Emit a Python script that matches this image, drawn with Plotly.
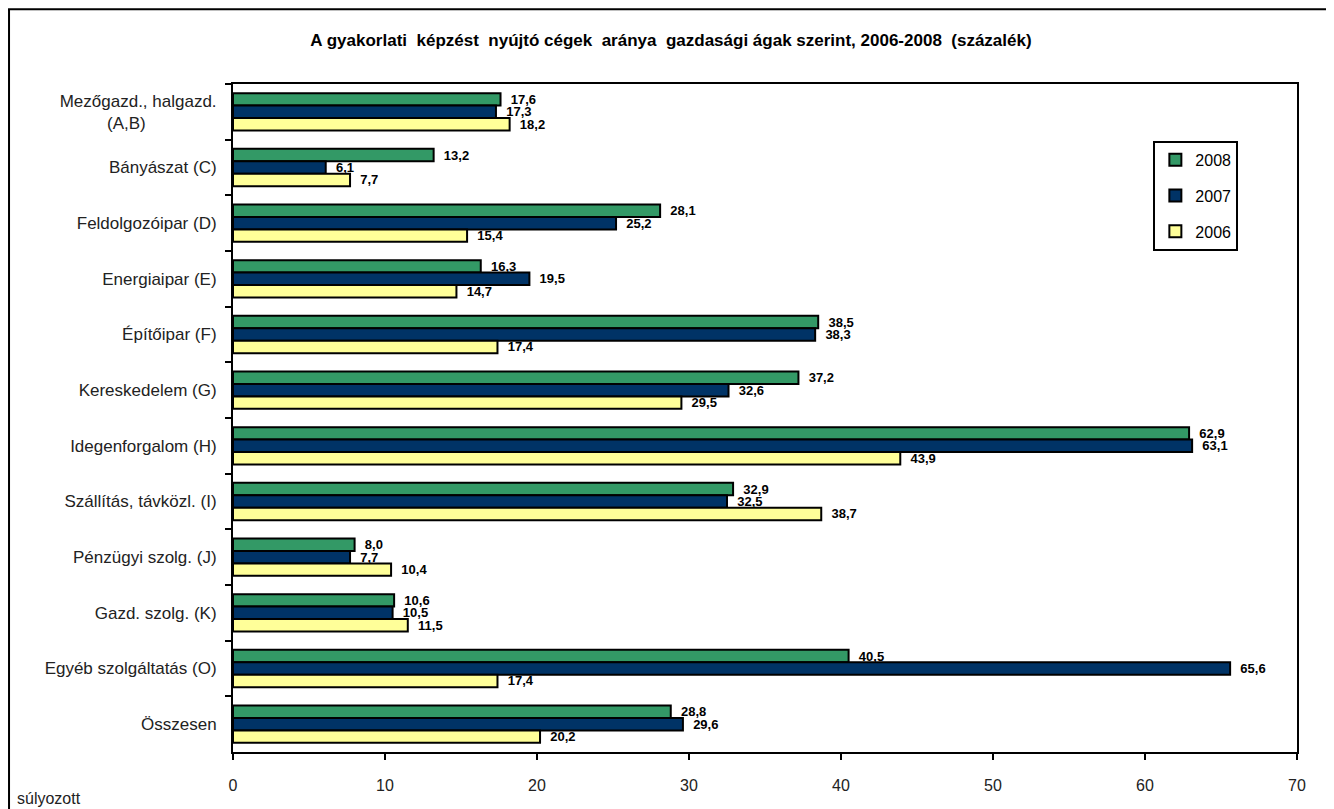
import plotly.graph_objects as go

categories = [
    "Mezőgazd., halgazd.<br>(A,B)",
    "Bányászat (C)",
    "Feldolgozóipar (D)",
    "Energiaipar (E)",
    "Építőipar (F)",
    "Kereskedelem (G)",
    "Idegenforgalom (H)",
    "Szállítás, távközl. (I)",
    "Pénzügyi szolg. (J)",
    "Gazd. szolg. (K)",
    "Egyéb szolgáltatás (O)",
    "Összesen",
]
v2008 = [17.6, 13.2, 28.1, 16.3, 38.5, 37.2, 62.9, 32.9, 8.0, 10.6, 40.5, 28.8]
v2007 = [17.3, 6.1, 25.2, 19.5, 38.3, 32.6, 63.1, 32.5, 7.7, 10.5, 65.6, 29.6]
v2006 = [18.2, 7.7, 15.4, 14.7, 17.4, 29.5, 43.9, 38.7, 10.4, 11.5, 17.4, 20.2]
x_ticks = [0, 10, 20, 30, 40, 50, 60, 70]

# push the "(A,B)" line toward the middle of the first label
categories[0] = categories[0] + "\u00a0" * 15

series = [("2008", v2008, "#339966"), ("2007", v2007, "#003366"), ("2006", v2006, "#FFFF99")]

nb = "\u00a0"

def fmt(v):
    return nb * 2 + f"{v:.1f}".replace(".", ",")

fig = go.Figure()
for name, vals, col in series:
    fig.add_trace(go.Bar(
        y=categories, x=vals, name=name, orientation="h", legendgroup=name,
        marker=dict(color=col, line=dict(color="black", width=2)),
        text=[fmt(v) for v in vals], textposition="outside", constraintext="none",
        textfont=dict(family="Liberation Sans, Arial", size=13, color="black", weight="bold"),
        cliponaxis=False,
    ))

title_txt = ("A gyakorlati" + nb + " képzést" + nb + " nyújtó cégek" + nb + " aránya" + nb +
             " gazdasági ágak szerint, 2006-2008" + nb + " (százalék)")

fig.update_layout(
    width=1326, height=801,
    margin=dict(l=225, r=37, t=76, b=57),
    barmode="group", bargap=0.33, bargroupgap=0,
    plot_bgcolor="white", paper_bgcolor="white",
    font=dict(family="Liberation Sans, Arial", size=17, color="#222"),
    title=dict(text="<b>" + title_txt + "</b>",
               x=0.5, xref="container", xanchor="center", y=1 - 32 / 801, yanchor="middle",
               font=dict(size=17, color="black")),
    legend=dict(x=0.865, y=0.915, xanchor="left", yanchor="top",
                bordercolor="black", borderwidth=2, bgcolor="white",
                font=dict(size=16, color="black"), tracegroupgap=12,
                itemwidth=30),
    xaxis=dict(range=[0, 70], tickvals=x_ticks, showgrid=False, zeroline=False,
               showline=True, linecolor="black", linewidth=2, mirror=True,
               ticks="outside", ticklen=6, tickwidth=2, tickcolor="black",
               ticklabelstandoff=12, tickfont=dict(size=16)),
    yaxis=dict(autorange="reversed", showgrid=False, showline=True, linecolor="black",
               linewidth=2, mirror=True, ticks="outside", ticklen=6, tickwidth=2,
               tickcolor="black", tickson="boundaries", ticklabelstandoff=11),
    annotations=[dict(text="súlyozott", xref="paper", yref="paper", x=-0.205, y=-0.07,
                      xanchor="left", yanchor="middle", showarrow=False,
                      font=dict(size=16, color="#222"))],
    shapes=[dict(type="rect", xref="paper", yref="paper",
                 x0=-0.2105, x1=1.031, y0=-0.12, y1=1.112,
                 line=dict(color="black", width=2))],
)

fig.write_html("out.html")
